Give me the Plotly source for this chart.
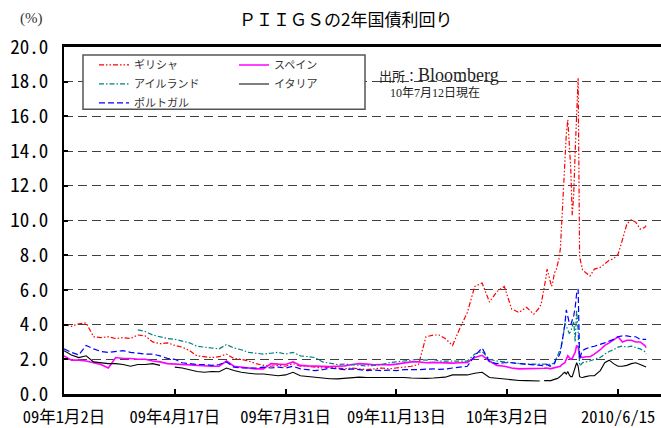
import plotly.graph_objects as go

# ---------------- data ----------------
dates = [
    # 2009 weekly
    "2009-01-02", "2009-01-09", "2009-01-16", "2009-01-23", "2009-01-30",
    "2009-02-06", "2009-02-13", "2009-02-20", "2009-02-27",
    "2009-03-06", "2009-03-13", "2009-03-20", "2009-03-27",
    "2009-04-03", "2009-04-10", "2009-04-17", "2009-04-24",
    "2009-05-01", "2009-05-08", "2009-05-15", "2009-05-22", "2009-05-29",
    "2009-06-05", "2009-06-12", "2009-06-19", "2009-06-26",
    "2009-07-03", "2009-07-10", "2009-07-17", "2009-07-24", "2009-07-31",
    "2009-08-07", "2009-08-14", "2009-08-21", "2009-08-28",
    "2009-09-04", "2009-09-11", "2009-09-18", "2009-09-25",
    "2009-10-02", "2009-10-09", "2009-10-16", "2009-10-23", "2009-10-30",
    "2009-11-06", "2009-11-13", "2009-11-20", "2009-11-27",
    "2009-12-04", "2009-12-11", "2009-12-18", "2009-12-24", "2009-12-31",
    # 2010 weekly
    "2010-01-08", "2010-01-15", "2010-01-22", "2010-01-29", "2010-02-05",
    "2010-02-12", "2010-02-19", "2010-02-26", "2010-03-05", "2010-03-12",
    "2010-03-19", "2010-03-26",
    "2010-04-01", "2010-04-02",
    # April-May 2010 daily
    "2010-04-06", "2010-04-07", "2010-04-08", "2010-04-09", "2010-04-12",
    "2010-04-13", "2010-04-14", "2010-04-15", "2010-04-16", "2010-04-19",
    "2010-04-20", "2010-04-21", "2010-04-22", "2010-04-23", "2010-04-26",
    "2010-04-27", "2010-04-28", "2010-04-29", "2010-04-30", "2010-05-03",
    "2010-05-04", "2010-05-05", "2010-05-06", "2010-05-07", "2010-05-10",
    "2010-05-11", "2010-05-12", "2010-05-14",
    # late
    "2010-05-19", "2010-05-24", "2010-05-28", "2010-06-02", "2010-06-07",
    "2010-06-10", "2010-06-15", "2010-06-18", "2010-06-23", "2010-06-28",
    "2010-07-01", "2010-07-06", "2010-07-09", "2010-07-12",
]

greece = [
    4.0, 3.9, 4.05, 4.1, 3.3, 3.25, 3.3, 3.2, 3.25, 3.2,
    3.4, 3.35, 3.0, 2.9, 2.95, 2.8, 2.7, 2.5, 2.2, 2.15,
    2.1, 2.15, 2.3, 2.05, 2.0, 1.9, 1.75, 1.65, 1.6, 1.65,
    1.6, 1.75, 1.6, 1.6, 1.55, 1.5, 1.55, 1.5, 1.45, 1.5,
    1.45, 1.4, 1.45, 1.5, 1.45, 1.5, 1.55, 1.6, 1.7, 3.3,
    3.4, 3.4, 3.2,
    2.8, 3.8, 4.7, 6.2, 6.4, 5.3, 5.9, 6.2, 4.9, 4.7, 5.0, 4.6,
    5.0, 5.2,
    6.0, 6.6, 7.2, 6.9, 6.5, 6.2, 6.5, 7.0, 7.1, 7.4,
    7.8, 8.4, 10.2, 11.5, 13.5, 15.0, 15.8, 14.5, 13.0, 10.3,
    11.5, 14.0, 16.5, 18.2, 7.9, 7.5, 7.15, 7.0,
    6.8, 7.2, 7.3, 7.5, 7.7, 7.8, 8.05, 8.9, 9.8, 10.05,
    9.9, 9.5, 9.6, 9.7,
]

spain = [
    2.2, 1.95, 1.95, 1.9, 1.8, 1.7, 1.5, 2.1, 2.05, 2.05,
    2.0, 2.0, 1.9, 1.85, 1.75, 1.72, 1.7, 1.68, 1.62, 1.62,
    1.6, 1.6, 1.9, 1.6, 1.55, 1.5, 1.45, 1.45, 1.75, 1.72,
    1.7, 1.85, 1.65, 1.62, 1.6, 1.6, 1.58, 1.6, 1.62, 1.7,
    1.75, 1.72, 1.68, 1.7, 1.68, 1.72, 1.8, 1.85, 1.85, 1.8,
    1.82, 1.8, 1.8,
    1.78, 1.8, 1.82, 2.1, 2.23, 1.9, 1.65, 1.6, 1.5, 1.45, 1.45, 1.45,
    1.47, 1.47,
    1.48, 1.5, 1.5, 1.48, 1.45, 1.47, 1.5, 1.52, 1.55, 1.55,
    1.58, 1.6, 1.7, 1.75, 1.8, 2.0, 2.2, 2.1, 2.0, 2.05,
    2.2, 2.4, 2.8, 2.7, 2.1, 2.15, 2.1, 2.15,
    2.15, 2.3, 2.55, 2.8, 2.95, 3.15, 3.3, 3.0, 3.1, 3.1,
    3.0, 3.0, 2.8, 2.67,
]

ireland = [
    None, None, None, None, None, None, None, None, None, None,
    3.7, 3.6, 3.4, 3.3, 3.2, 3.15, 3.05, 2.95, 2.75, 2.7,
    2.65, 2.6, 2.85, 2.65, 2.55, 2.4, 2.35, 2.3, 2.35, 2.4,
    2.3, 2.4, 2.2, 2.15, 2.1, 1.85, 1.78, 1.7, 1.72, 1.7,
    1.65, 1.62, 1.65, 1.7, 1.8, 1.85, 1.9, 1.95, 2.0, 1.95,
    2.0, 1.9, 1.9,
    1.9, 1.88, 1.9, 2.3, 2.45, 2.0, 1.9, 1.85, 1.8, 1.75, 1.72, 1.72,
    1.7, 1.7,
    1.7, 1.72, 1.75, 1.72, 1.7, 1.72, 1.75, 1.8, 2.0, 2.2,
    2.3, 2.6, 2.95, 3.4, 4.1, 3.9, 3.7, 3.5, 3.6, 4.0,
    4.2, 3.0, 4.85, 3.6, 1.62, 1.7, 1.8, 1.85,
    1.9, 2.0, 2.1, 2.3, 2.45, 2.55, 2.7, 2.76, 2.7, 2.76,
    2.7, 2.6, 2.45, 2.3,
]

italy = [
    2.5, 2.25, 2.1, 2.2, 1.85, 1.8, 1.75, 1.75, 1.7, 1.6,
    1.7, 1.7, 1.75, 1.65, None, 1.55, 1.5, 1.4, 1.3, 1.25,
    1.3, 1.28, 1.5, 1.35, 1.25, 1.2, 1.15, 1.15, 1.1, 1.05,
    1.1, 1.25, 1.05, 1.0, 0.95, 0.9, 0.88, 0.87, 0.9, 0.95,
    0.97, 0.95, 0.95, 0.97, 0.95, 0.95, 0.95, 0.92, 0.9, 0.9,
    0.92, 0.95, 0.97,
    1.1, 1.1, 1.1, 1.2, 1.25, 0.95, 0.9, 0.85, 0.8, 0.78, 0.77, 0.75,
    0.75, None,
    0.77, 0.78, 0.8, 0.78, 0.76, 0.78, 0.8, 0.82, 0.85, 0.9,
    0.95, 1.0, 1.1, 1.2, 1.25, 1.15, 1.3, 1.1, 1.0, 1.0,
    1.3, 1.6, 1.8, 1.6, 1.0, 0.97, 0.95, 1.0,
    1.05, 1.05, 1.35, 1.8, 1.95, 1.75, 1.6, 1.6, 1.65, 1.75,
    1.8, 1.7, 1.6, 1.55,
]

portugal = [
    2.6, 2.4, 2.25, 2.8, 2.6, 2.45, 2.4, 2.45, 2.5, 2.4,
    2.35, 2.3, 2.3, 2.2, 2.05, 2.0, 1.8, 1.75, 1.7, 1.7,
    1.65, 1.7, 1.85, 1.55, 1.5, 1.5, 1.5, 1.55, 1.5, 1.55,
    1.5, 1.6, 1.45, 1.4, 1.35, 1.4, 1.5, 1.45, 1.4, 1.45,
    1.4, 1.35, 1.38, 1.35, 1.38, 1.35, 1.4, 1.38, 1.4, 1.43,
    1.45, 1.42, 1.43,
    1.5, 1.55, 1.6, 2.2, 2.65, 1.85, 1.75, 1.8, 1.8, 1.75, 1.72, 1.7,
    1.65, 1.65,
    1.6, 1.65, 1.7, 1.65, 1.6, 1.65, 1.7, 1.75, 2.0, 2.1,
    2.2, 2.4, 2.9, 3.3, 4.0, 4.85, 4.5, 4.1, 4.0, 4.3,
    4.5, 5.0, 5.8, 6.05, 2.0, 2.3, 2.5, 2.6,
    2.7, 2.75, 2.85, 2.95, 3.05, 3.15, 3.3, 3.35, 3.35, 3.3,
    3.3, 3.15, 3.15, 3.15,
]

names = ["ギリシャ", "スペイン", "アイルランド", "イタリア", "ポルトガル"]
tick_dates = ["2009-01-02", "2009-04-17", "2009-07-31", "2009-11-13", "2010-03-02", "2010-06-15"]
tick_text = ["09年1月2日", "09年4月17日", "09年7月31日", "09年11月13日", "10年3月2日", "2010/6/15"]
y_ticks = [0, 2, 4, 6, 8, 10, 12, 14, 16, 18, 20]

# ---------------- figure ----------------
W, H = 661, 428
ML, MR, MT, MB = 64, 0, 47, 30
PW, PH = W - ML - MR, H - MT - MB


def px(x):
    return (x - ML) / PW


def py(y):
    return (H - MB - y) / PH


MONO = "Noto Sans Mono CJK JP, DejaVu Sans Mono, Noto Sans CJK JP, monospace"
CJK = "Noto Sans CJK JP, sans-serif"
SERIF = "Liberation Serif, Noto Sans CJK JP, serif"

styles = {
    "ギリシャ": dict(color="#FF0000", dash="5px,2px,1.5px,2px,1.5px,2px", width=1.2, legend="legend"),
    "スペイン": dict(color="#FF00FF", dash="solid", width=1.6, legend="legend2"),
    "アイルランド": dict(color="#008080", dash="5px,2px,1.5px,2px", width=1.2, legend="legend"),
    "イタリア": dict(color="#000000", dash="solid", width=1.1, legend="legend2"),
    "ポルトガル": dict(color="#0000FF", dash="6px,3px", width=1.2, legend="legend"),
}
values = {"ギリシャ": greece, "スペイン": spain, "アイルランド": ireland,
          "イタリア": italy, "ポルトガル": portugal}

fig = go.Figure()
for n in names:
    s = styles[n]
    fig.add_trace(go.Scatter(
        x=dates, y=values[n], name=n, mode="lines",
        line=dict(color=s["color"], dash=s["dash"], width=s["width"]),
        legend=s["legend"], connectgaps=False,
    ))

legend_common = dict(
    xanchor="left", yanchor="top", bgcolor="rgba(0,0,0,0)", borderwidth=0,
    font=dict(family=CJK, size=11, color="#333333"), tracegroupgap=0,
    itemwidth=30,
)

fig.update_layout(
    width=W, height=H,
    margin=dict(l=ML, r=MR, t=MT, b=MB, pad=0),
    paper_bgcolor="white", plot_bgcolor="white",
    showlegend=True,
    legend=dict(x=px(94), y=py(50.5), **legend_common),
    legend2=dict(x=px(234), y=py(50.5), **legend_common),
    xaxis=dict(
        type="date",
        range=["2009-01-02", "2010-07-26 02:00"],
        rangebreaks=[dict(bounds=["sat", "mon"]),
                     dict(values=["2009-12-25", "2010-01-01"])],
        tickmode="array", tickvals=tick_dates, ticktext=tick_text,
        ticks="inside", ticklen=5, tickwidth=1.5, tickcolor="black",
        showline=True, linewidth=2.5, linecolor="black", mirror=True,
        showgrid=False, zeroline=False,
        tickfont=dict(family=MONO, size=16.5, color="black"),
        ticklabelstandoff=6,
    ),
    yaxis=dict(
        range=[0, 20], tickmode="array", tickvals=y_ticks,
        ticktext=[f"{v:.1f}" for v in y_ticks],
        ticks="inside", ticklen=4, tickwidth=1.5, tickcolor="black",
        showline=True, linewidth=2, linecolor="black",
        showgrid=True, gridcolor="#404040", gridwidth=1, griddash="9px,5px",
        zeroline=False,
        tickfont=dict(family=MONO, size=19, color="black"),
        ticklabelstandoff=10,
    ),
    shapes=[dict(
        type="rect", xref="paper", yref="paper",
        x0=px(83), x1=px(365), y0=py(110), y1=py(55),
        line=dict(color="#555555", width=1.5), fillcolor="white", layer="above",
    )],
    annotations=[
        dict(text="ＰＩＩＧＳの2年国債利回り", xref="paper", yref="paper",
             x=px(345), y=py(18), xanchor="center", yanchor="middle", showarrow=False,
             font=dict(family=CJK, size=17, color="black")),
        dict(text="(%)", xref="paper", yref="paper",
             x=px(31), y=py(18), xanchor="center", yanchor="middle", showarrow=False,
             font=dict(family="Liberation Serif, serif", size=15, color="#333333")),
        dict(text="<span style='font-size:13px'>出所：</span>Bloomberg",
             xref="paper", yref="paper",
             x=px(438.5), y=py(75.5), xanchor="center", yanchor="middle", showarrow=False,
             font=dict(family=SERIF, size=18, color="#222222")),
        dict(text="10年7月12日現在", xref="paper", yref="paper",
             x=px(434.5), y=py(94), xanchor="center", yanchor="middle", showarrow=False,
             font=dict(family=SERIF, size=12, color="#222222")),
    ],
)

fig.write_html("out.html", config={"displayModeBar": False},
               post_script="document.body.style.margin='0px';")
